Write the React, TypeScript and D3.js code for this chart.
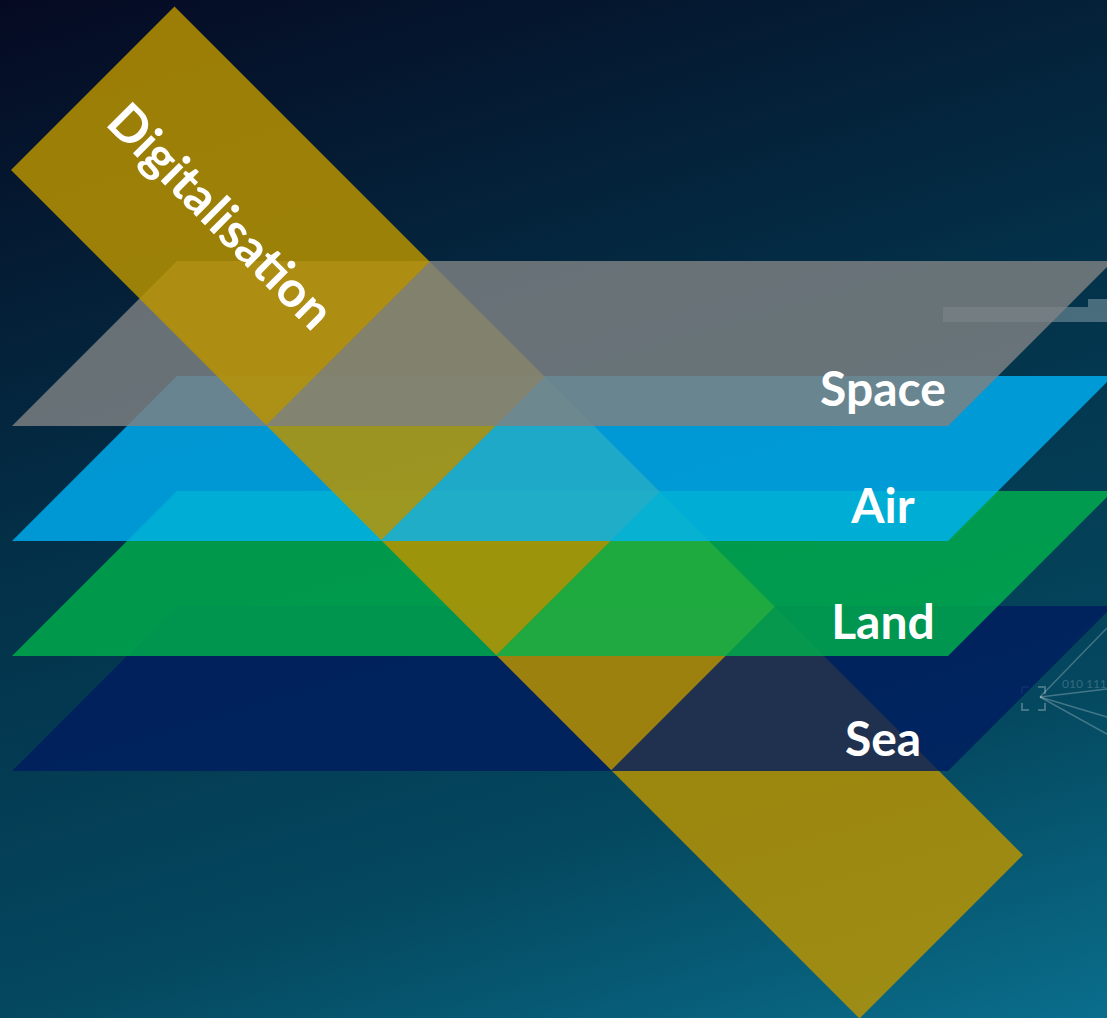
import React from 'react';
import * as d3 from 'd3';

const W = 1107;
const H = 1018;

// Layers (top to bottom)
const layerNames = ['Space', 'Air', 'Land', 'Sea'];
const layerColors = ['#7d8182', '#00b3f7', '#00b34c', '#001c5f'];
const layerOpacity = [0.83, 0.8, 0.8, 0.8];
const layerIndex = [0, 1, 2, 3];

// Crossing band
const bandLabel = 'Digitalisation';
const bandColor = '#ba9400';
const bandOpacity = 0.84;

// Background gradient stops
const bgOffsets = [0, 0.415, 0.754, 1];
const bgColors = ['#050a22', '#033048', '#04485f', '#0a6e8c'];

const netBits = '010 111';

type P = [number, number];
const poly = (pts: P[]) => (d3.line()(pts) as string) + 'Z';

export default function App() {
  const yTop = d3.scaleLinear().domain([0, layerNames.length - 1]).range([261, 606]);
  const depth = 165;
  const xBL = 12;
  const xBR = 948;

  const layerPts = (i: number): P[] => {
    const yt = yTop(i);
    const yb = yt + depth;
    return [
      [xBL, yb],
      [xBL + depth, yt],
      [xBR + depth, yt],
      [xBR, yb],
    ];
  };

  // band geometry in s = x + y coordinates
  const cLeft = 159;
  const cRight = -168;
  const edge = (c: number) => (s: number): P => [(s - c) / 2, (s + c) / 2];
  const Lp = edge(cLeft);
  const Rp = edge(cRight);
  const sStart = 181;
  const sEnd = 1878;
  const cross = layerIndex.map((i) => 2 * yTop(i) + 169.5);
  const bounds = [sStart, ...cross, sEnd];
  const section = (k: number): P[] => [Lp(bounds[k]), Rp(bounds[k]), Rp(bounds[k + 1]), Lp(bounds[k + 1])];

  const elements: React.ReactNode[] = [];
  elements.push(
    <path key="sec4" d={poly(section(4))} fill={bandColor} fillOpacity={bandOpacity} />
  );
  for (let i = layerNames.length - 1; i >= 0; i--) {
    elements.push(
      <path key={'layer' + i} d={poly(layerPts(i))} fill={layerColors[i]} fillOpacity={layerOpacity[i]} />
    );
    elements.push(
      <path key={'sec' + i} d={poly(section(i))} fill={bandColor} fillOpacity={bandOpacity} />
    );
  }

  const cMid = (cLeft + cRight) / 2;
  const sText = 437;
  const tx = (sText - cMid) / 2;
  const ty = (sText + cMid) / 2;

  const labelX = 883;
  const labelBase = d3.scaleLinear().domain([0, 3]).range([406, 756]);

  const netO: P = [1040, 697];
  const netEnds: P[] = [
    [1107, 628],
    [1107, 689],
    [1107, 717],
    [1107, 734],
  ];

  return (
    <svg
      width={W}
      height={H}
      viewBox={`0 0 ${W} ${H}`}
      style={{ position: 'absolute', left: 0, top: 0, display: 'block' }}
    >
      <defs>
        <linearGradient id="bg" gradientUnits="userSpaceOnUse" x1={0} y1={0} x2={371} y2={1238}>
          {bgOffsets.map((o, i) => (
            <stop key={i} offset={o} stopColor={bgColors[i]} />
          ))}
        </linearGradient>
      </defs>
      <rect x={0} y={0} width={W} height={H} fill="url(#bg)" />

      {/* faint background details */}
      <g fill="#ffffff" fillOpacity={0.28}>
        <rect x={943} y={307} width={W - 943} height={15} />
        <rect x={1088} y={299} width={W - 1088} height={8} />
      </g>
      <g stroke="#ffffff" strokeOpacity={0.25} strokeWidth={1.5} fill="none">
        {netEnds.map((e, i) => (
          <line key={i} x1={netO[0]} y1={netO[1]} x2={e[0]} y2={e[1]} />
        ))}
        <path d="M1022,694 V687 H1029 M1038,687 H1045 V694 M1045,703 V710 H1038 M1029,710 H1022 V703" strokeWidth={2} />
      </g>
      <text x={1062} y={688} fontFamily="Lato, sans-serif" fontSize={12} fill="#ffffff" fillOpacity={0.2}>
        {netBits}
      </text>

      {elements}

      {layerNames.map((n, i) => (
        <text
          key={n}
          x={labelX}
          y={labelBase(i)}
          textAnchor="middle"
          fontFamily="Lato, sans-serif"
          fontWeight={700}
          fontSize={48}
          fill="#ffffff"
        >
          {n}
        </text>
      ))}

      <text
        transform={`translate(${tx},${ty}) rotate(45)`}
        textAnchor="middle"
        dy={17.5}
        fontFamily="Lato, sans-serif"
        fontWeight={700}
        fontSize={50}
        fill="#ffffff"
      >
        {bandLabel}
      </text>
    </svg>
  );
}
